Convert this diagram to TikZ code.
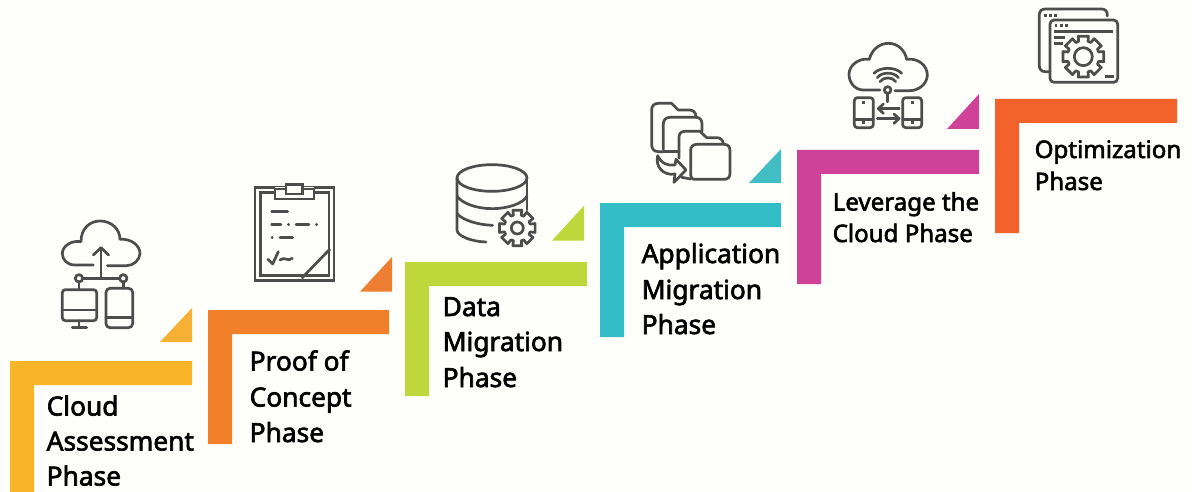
\documentclass[tikz,border=0pt]{standalone}
\usepackage{fontspec}
\setmainfont{Noto Sans}
\newfontfamily\lblfont[FakeBold=2.4]{Noto Sans}
\usetikzlibrary{calc}
\definecolor{bgc}{HTML}{FEFEFA}
\definecolor{ink}{HTML}{4D4D4D}
\definecolor{cA}{HTML}{F9B428}\definecolor{tA}{HTML}{F6B135}
\definecolor{cB}{HTML}{F27F29}\definecolor{tB}{HTML}{EE7E31}
\definecolor{cC}{HTML}{BED73B}
\definecolor{cD}{HTML}{33BEC7}\definecolor{tD}{HTML}{42BDC4}
\definecolor{cE}{HTML}{D04298}
\definecolor{cF}{HTML}{F4622B}
\newcommand{\bent}[5]{% left, right, top, bottom, colour
  \fill[#5] (#1,#4) -- (#1,#3) -- (#2,#3) -- (#2,#3+24) -- (#1+24,#3+24) -- (#1+24,#4) -- cycle;}
\newcommand{\corner}[5]{% x1, x2, ybottom, ytop, colour
  \fill[#5] (#1,#3) -- (#2,#3) -- (#2,#4) -- cycle;}
\newcommand{\gearpath}[5]{% cx, cy, ro, ri, rc
  \draw[iconline] ($(#1,#2)+(-14:#3)$)
    \foreach \a in {0,45,...,315}{ -- ($(#1,#2)+(\a-14:#3)$) -- ($(#1,#2)+(\a+14:#3)$) -- ($(#1,#2)+(\a+17:#4)$) -- ($(#1,#2)+(\a+28:#4)$) } -- cycle;
  \draw[iconline] (#1,#2) circle[radius=#5];}
\tikzset{
  iconline/.style={draw=ink,line width=2.7pt,line join=round,line cap=round,fill=none},
  clipline/.style={iconline,line width=2.6pt,line cap=butt,line join=miter},
  lbl/.style={anchor=base west,inner sep=0pt,text=black,font=\lblfont\fontsize{26.3}{30}\selectfont},
  lblsmall/.style={anchor=base west,inner sep=0pt,text=black,font=\lblfont\fontsize{24.1}{28}\selectfont},
  zoomed/.style={x=0.3333pt,y=-0.3333pt},
}
\begin{document}
\begin{tikzpicture}[x=1pt,y=-1pt]
\useasboundingbox (0,0) rectangle (1192,492);
\fill[bgc] (0,0) rectangle (1192,492);
\bent{10}{192}{361}{492}{cA}
\bent{208}{389}{310}{444}{cB}
\bent{405}{587}{262}{396}{cC}
\bent{600}{781}{203}{337}{cD}
\bent{797}{979}{150}{284}{cE}
\bent{995}{1177}{99}{233}{cF}
\corner{160}{192}{342}{308}{tA}
\corner{360}{392}{291.7}{257}{tB}
\corner{552}{584}{240.7}{205.7}{cC}
\corner{749}{781}{183}{149}{tD}
\corner{947}{979}{129}{94}{cE}
\node[lbl] (a1) at (46.5,415.5) {Cloud};
\node[lbl] (a2) at (46.5,450.5) {Assessment};
\node[lbl] (a3) at (46.5,485.5) {Phase};
\node[lbl] (b1) at (249.5,370.5) {Proof of};
\node[lbl] (b2) at (249.5,406.5) {Concept};
\node[lbl] (b3) at (249.5,442) {Phase};
\node[lbl] (c1) at (442.5,316) {Data};
\node[lbl] (c2) at (442.5,351) {Migration};
\node[lbl] (c3) at (442.5,387) {Phase};
\node[lbl] (d1) at (641.5,263) {Application};
\node[lbl] (d2) at (641.5,299) {Migration};
\node[lbl] (d3) at (641.5,334) {Phase};
\node[lblsmall] (e1) at (832.5,210.5) {Leverage the};
\node[lblsmall] (e2) at (832.5,242) {Cloud Phase};
\node[lblsmall] (f1) at (1034.5,158) {Optimization};
\node[lblsmall] (f2) at (1034.5,190) {Phase};
% icon 1
\begin{scope}[shift={(0,220)},zoomed]
\draw[iconline] (280,135) -- (225,135) .. controls (200,135) and (187,118) .. (187,100) .. controls (187,78) and (215,60) .. (243,65) .. controls (243,25) and (270,3) .. (300,3) .. controls (335,3) and (360,28) .. (360,58) .. controls (395,55) and (420,78) .. (420,100) .. controls (420,120) and (400,137) .. (380,137) -- (322,137);
\draw[iconline] (303,175) -- (303,85);
\draw[iconline] (280,105) -- (303,83) -- (326,105);
\draw[iconline] (247,175) -- (358,175);
\draw[iconline] (237,175) circle[radius=11];
\draw[iconline] (370,175) circle[radius=11];
\draw[iconline] (237,186) -- (237,208);
\draw[iconline] (370,186) -- (370,205);
\draw[iconline,rounded corners=3pt] (187,209) rectangle (290,302);
\draw[iconline] (187,270) -- (290,270);
\draw[iconline] (237,302) -- (237,322);
\draw[iconline] (217,322) -- (260,322);
\draw[iconline,rounded corners=4pt] (318,205) rectangle (398,323);
\draw[iconline] (318,293) -- (398,293);
\end{scope}
% icon 2
\begin{scope}[shift={(200,170)},zoomed]
\draw[clipline] (165,53) rectangle (402,332);
\draw[clipline] (182,68) rectangle (387,317);
\fill[bgc] (225,50) rectangle (342,87);
\draw[clipline] (225,57) rectangle (342,87);
\fill[bgc] (258,43) rectangle (307,72);
\draw[clipline] (258,43) rectangle (307,72);
\draw[iconline] (215,124) -- (263,124);
\draw[iconline] (215,163) -- (243,163);
\draw[iconline] (265,163) -- (266,163);
\draw[iconline] (288,163) -- (327,163);
\draw[iconline] (349,163) -- (350,163);
\draw[iconline] (216,203) -- (217,203);
\draw[iconline] (240,203) -- (278,203);
\draw[iconline] (204,268) -- (218,282) -- (235,245);
\draw[iconline] (240,270) .. controls (255,258) and (262,277) .. (277,265);
\draw[iconline,line cap=butt] (305,325) -- (390,237);
\end{scope}
% icon 3
\begin{scope}[shift={(400,150)},zoomed]
\draw[iconline] (276,84) ellipse[x radius=105,y radius=40];
\draw[iconline] (171,84) -- (171,240) .. controls (171,258) and (215,275) .. (258,276);
\draw[iconline] (381,84) -- (381,180);
\draw[iconline] (171,138) .. controls (185,160) and (230,176) .. (276,176) .. controls (325,176) and (370,160) .. (381,138);
\draw[iconline] (171,190) .. controls (185,210) and (235,225) .. (278,226);
\gearpath{352}{234}{55}{40}{18}
\end{scope}
% icon 4
\begin{scope}[shift={(600,90)},zoomed]
\draw[iconline] (190,185) -- (175,185) .. controls (162,185) and (155,176) .. (155,165) -- (155,60) .. controls (155,48) and (162,40) .. (175,40) -- (215,40) -- (235,60) -- (268,60) .. controls (280,60) and (288,68) .. (288,80);
\draw[iconline] (190,178) -- (190,102) .. controls (190,90) and (197,82) .. (210,82) -- (288,82) .. controls (300,82) and (306,90) .. (306,102) -- (306,124);
\draw[iconline] (190,185) -- (237,185);
\draw[iconline] (237,205) -- (237,142) .. controls (237,130) and (244,124) .. (255,124) -- (300,124) -- (320,143) -- (350,143) .. controls (362,143) and (368,150) .. (370,160);
\draw[iconline] (245,262) -- (272,267);
\draw[iconline] (272,255) -- (272,180) .. controls (272,170) and (280,163) .. (290,163) -- (372,163) .. controls (384,163) and (390,170) .. (390,182) -- (390,250) .. controls (390,262) and (384,268) .. (372,268) -- (282,268) .. controls (276,268) and (272,262) .. (272,255);
\draw[iconline] (173,197) .. controls (185,222) and (205,228) .. (225,225) -- (228,208) -- (258,240) -- (222,277) -- (225,252) .. controls (190,258) and (165,230) .. (173,197);
\end{scope}
% icon 5
\begin{scope}[shift={(800,30)},zoomed]
\draw[iconline] (240,180) -- (190,180) .. controls (165,180) and (147,158) .. (147,133) .. controls (147,105) and (178,83) .. (208,88) .. controls (215,58) and (240,40) .. (265,40) .. controls (295,40) and (315,62) .. (320,88) .. controls (352,83) and (382,105) .. (382,135) .. controls (382,162) and (355,182) .. (330,182) -- (285,182);
\draw[iconline] (240,155) .. controls (250,140) and (278,140) .. (287,155);
\draw[iconline] (232,143) .. controls (245,125) and (282,125) .. (295,143);
\draw[iconline] (222,130) .. controls (240,110) and (287,110) .. (305,130);
\draw[iconline] (263,180) circle[radius=10];
\draw[iconline] (263,190) -- (263,215);
\draw[iconline,rounded corners=3pt] (163,203) rectangle (220,293);
\draw[iconline] (163,268) -- (220,268);
\fill[ink] (186,213) rectangle (194,221);
\fill[ink] (186,273) rectangle (194,281);
\draw[iconline,rounded corners=3pt] (308,203) rectangle (365,293);
\draw[iconline] (308,268) -- (365,268);
\fill[ink] (333,213) rectangle (341,221);
\fill[ink] (333,273) rectangle (341,281);
\draw[iconline] (298,236) -- (235,236);
\draw[iconline] (250,222) -- (235,236) -- (250,250);
\draw[iconline] (232,266) -- (297,266);
\draw[iconline] (282,252) -- (297,266) -- (282,280);
\end{scope}
% icon 6
\begin{scope}[shift={(1000,0)},zoomed]
\draw[iconline] (322,48) -- (322,44) .. controls (322,34) and (315,27) .. (305,27) -- (135,27) .. controls (125,27) and (118,34) .. (118,44) -- (118,198) .. controls (118,208) and (125,215) .. (135,215) -- (150,215);
\draw[iconline,rounded corners=4pt] (150,60) rectangle (353,247);
\foreach \q in {137,152,166} \fill[ink] (\q-4,42) rectangle (\q+4,50);
\foreach \q in {168,184,200} \fill[ink] (\q-4,72) rectangle (\q+4,80);
\fill[ink] (162,90) rectangle (338,98);
\fill[ink] (162,108) rectangle (195,116);
\fill[ink] (162,126) rectangle (188,134);
\fill[ink] (316,225) rectangle (342,233);
\gearpath{250}{170}{63}{48}{27}
\end{scope}
\end{tikzpicture}
\end{document}
